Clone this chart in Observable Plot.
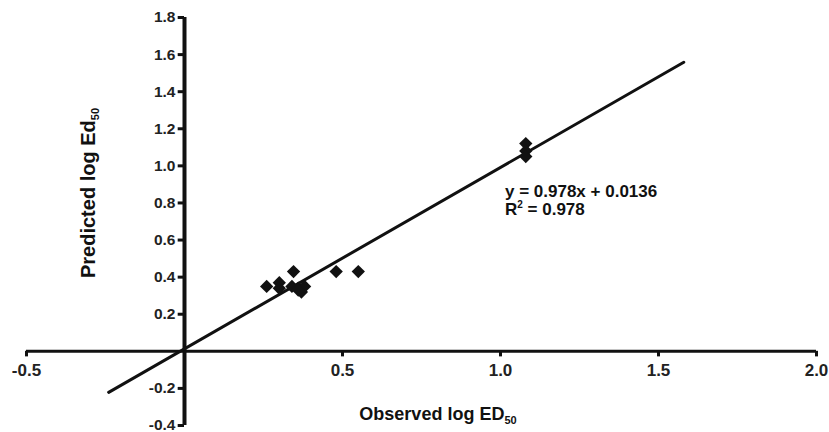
<!DOCTYPE html>
<html>
<head>
<meta charset="utf-8">
<script src="https://cdn.jsdelivr.net/npm/d3@7"></script>
<script src="https://cdn.jsdelivr.net/npm/@observablehq/plot@0.6"></script>
<style>
  html, body { margin: 0; padding: 0; background: #fff; }
  svg text { font-family: "Liberation Sans", Arial, sans-serif; font-weight: bold; }
</style>
</head>
<body>
<div id="chart"></div>
<script>
// Data
const observed  = [0.26, 0.30, 0.30, 0.345, 0.34, 0.36, 0.37, 0.38, 0.36, 0.48, 0.55, 1.08, 1.08, 1.08];
const predicted = [0.35, 0.37, 0.34, 0.43, 0.35, 0.34, 0.32, 0.35, 0.33, 0.43, 0.43, 1.12, 1.08, 1.05];
const xTicks = [-0.5, 0.5, 1.0, 1.5, 2.0];
const yTicks = [-0.4, -0.2, 0.2, 0.4, 0.6, 0.8, 1.0, 1.2, 1.4, 1.6, 1.8];
const slope = 0.978, intercept = 0.0136, r2 = 0.978;
const fitX = [-0.24, 1.58];

const points = observed.map((x, i) => ({x, y: predicted[i]}));
const fit = fitX.map(x => ({x, y: slope * x + intercept}));

const font = "Liberation Sans, Arial, sans-serif";

const plot = Plot.plot({
  width: 829,
  height: 432,
  marginLeft: 26,
  marginRight: 13,
  marginTop: 17,
  marginBottom: 7,
  x: {domain: [-0.5, 2.0], axis: null},
  y: {domain: [-0.4, 1.8], axis: null},
  style: {fontFamily: font, background: "#fff"},
  marks: [
    Plot.ruleY([0], {x1: -0.5, x2: 2.0, stroke: "#111", strokeWidth: 3}),
    Plot.ruleX([0], {y1: -0.4, y2: 1.8, stroke: "#111", strokeWidth: 4}),
    Plot.ruleX(xTicks, {x: d => d, y1: 0, y2: -0.03, stroke: "#111", strokeWidth: 3}),
    Plot.ruleY(yTicks, {y: d => d, x1: 0, x2: -0.02, stroke: "#111", strokeWidth: 3}),
    Plot.text(xTicks, {x: d => d, y: 0, dy: 19, text: d => d.toFixed(1), fontSize: 17, fontWeight: "bold", fill: "#222"}),
    Plot.text(yTicks, {x: 0, y: d => d, dx: -9, textAnchor: "end", text: d => d.toFixed(1), fontSize: 15.5, fontWeight: "bold", fill: "#222"}),
    Plot.line(fit, {x: "x", y: "y", stroke: "#111", strokeWidth: 3}),
    Plot.dot(points, {x: "x", y: "y", symbol: "diamond2", r: 6, fill: "#111", stroke: "none"})
  ]
});

document.getElementById("chart").appendChild(plot);

const svg = d3.select(plot);
const xs = plot.scale("x"), ys = plot.scale("y");

// Equation annotation
const eq = svg.append("g").attr("fill", "#111").attr("font-size", 17).attr("font-weight", "bold").attr("text-anchor", "start");
eq.append("text").attr("x", 505).attr("y", ys.apply(0.83)).text(`y = ${slope}x + ${intercept}`);
const r = eq.append("text").attr("x", 505).attr("y", ys.apply(0.73));
r.append("tspan").text("R");
r.append("tspan").attr("font-size", 10).attr("dy", -7).text("2");
r.append("tspan").attr("dy", 7).text(` = ${r2}`);

// Axis titles
const xt = svg.append("text").attr("fill", "#111").attr("font-size", 18).attr("font-weight", "bold")
  .attr("text-anchor", "middle")
  .attr("x", 438).attr("y", 420);
xt.append("tspan").text("Observed log ED");
xt.append("tspan").attr("font-size", 11).attr("dy", 4).text("50");

const yt = svg.append("text").attr("fill", "#111").attr("font-size", 20).attr("font-weight", "bold")
  .attr("text-anchor", "middle")
  .attr("transform", `translate(95, 193) rotate(-90)`);
yt.append("tspan").text("Predicted log Ed");
yt.append("tspan").attr("font-size", 11).attr("dy", 4).text("50");
</script>
</body>
</html>
